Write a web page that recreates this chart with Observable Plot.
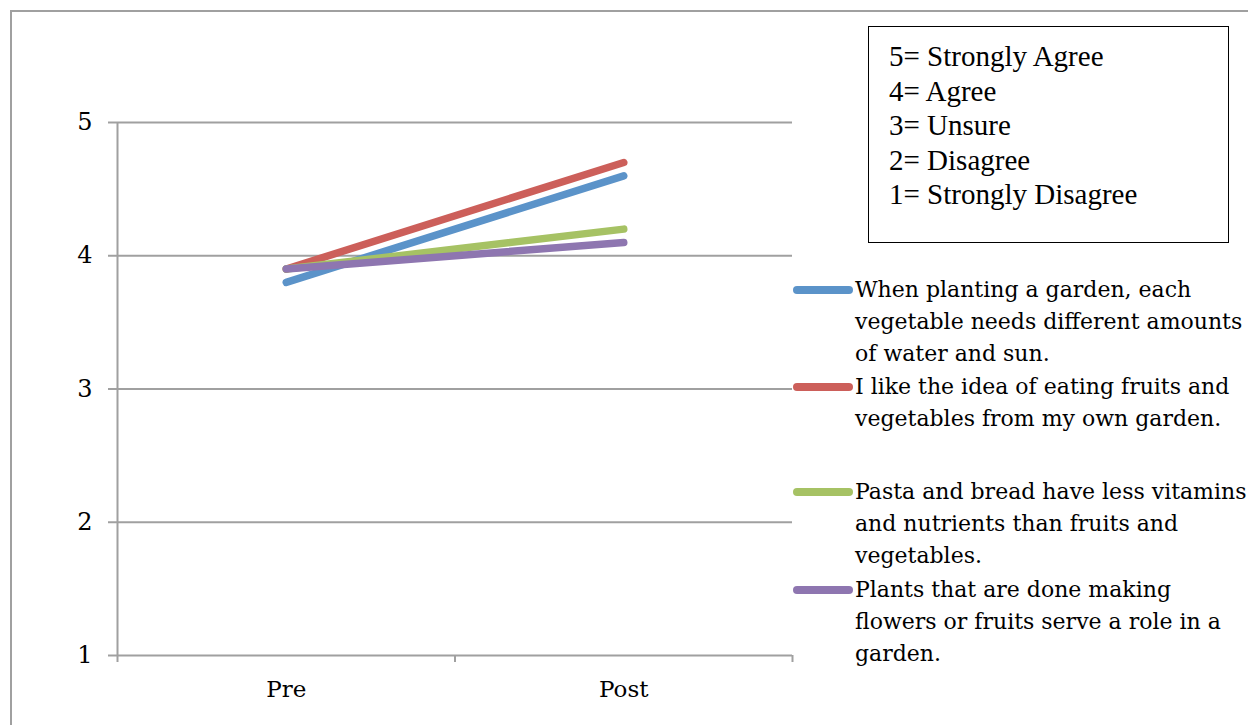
<!DOCTYPE html>
<html>
<head>
<meta charset="utf-8">
<script src="https://cdn.jsdelivr.net/npm/d3@7"></script>
<script src="https://cdn.jsdelivr.net/npm/@observablehq/plot@0.6"></script>
<style>
  html, body { margin: 0; padding: 0; background: #fff; }
  #wrap { position: relative; width: 1248px; height: 725px; overflow: hidden; background: #fff; }
  #frame { position: absolute; left: 10px; top: 10px; width: 1400px; height: 900px; border: 2px solid #a0a0a0; box-sizing: border-box; }
  #chart { position: absolute; left: 0; top: 0; }
  #key { position: absolute; left: 868px; top: 26px; width: 361px; height: 217px; border: 1.5px solid #000; box-sizing: border-box;
         font-family: "Liberation Serif", "Times New Roman", serif; font-size: 29px; line-height: 34.5px; padding: 12px 0 0 20px; color: #000; }
  #legend { position: absolute; left: 793px; top: 0; width: 460px; font-family: "DejaVu Serif", serif; font-size: 22px; line-height: 32px; color: #000; }
  .item { position: absolute; left: 0; display: flex; align-items: flex-start; }
  .sw { width: 60px; height: 8px; border-radius: 4px; margin-top: 12px; flex: none; }
  .lab { margin-left: 2px; width: 440px; white-space: nowrap; }
</style>
</head>
<body>
<div id="wrap">
  <div id="frame"></div>
  <div id="chart"></div>
  <div id="key"></div>
  <div id="legend"></div>
</div>
<script>
const categories = ["Pre", "Post"];
const series = [
  "When planting a garden, each vegetable needs different amounts of water and sun.",
  "I like the idea of eating fruits and vegetables from my own garden.",
  "Pasta and bread have less vitamins and nutrients than fruits and vegetables.",
  "Plants that are done making flowers or fruits serve a role in a garden."
];
const preValues = [3.8, 3.9, 3.9, 3.9];
const postValues = [4.6, 4.7, 4.2, 4.1];
const colors = ["#5b93c9", "#cc5f5a", "#a6c264", "#8e76b0"];
const yTicks = [1, 2, 3, 4, 5];
const scaleKey = ["5= Strongly Agree", "4= Agree", "3= Unsure", "2= Disagree", "1= Strongly Disagree"];
const legendLines = [
  ["When planting a garden, each", "vegetable needs different amounts", "of water and sun."],
  ["I like the idea of eating fruits and", "vegetables from my own garden."],
  ["Pasta and bread have less vitamins", "and nutrients than fruits and", "vegetables."],
  ["Plants that are done making", "flowers or fruits serve a role in a", "garden."]
];
const legendTops = [274, 371, 476, 574];

const data = [];
series.forEach((s, i) => {
  data.push({series: s, cat: categories[0], x: 0.5, y: preValues[i]});
  data.push({series: s, cat: categories[1], x: 1.5, y: postValues[i]});
});
const labels = categories.map((c, i) => ({cat: c, x: i + 0.5}));

const chart = Plot.plot({
  width: 1248,
  height: 725,
  marginLeft: 117,
  marginRight: 456,
  marginTop: 122,
  marginBottom: 70,
  style: {fontFamily: "DejaVu Serif, serif", fontSize: "23px", color: "#000", background: "transparent"},
  x: {domain: [0, 2], axis: null},
  y: {domain: [1, 5], axis: null},
  color: {domain: series, range: colors},
  marks: [
    Plot.gridY(yTicks, {stroke: "#a0a0a0", strokeOpacity: 1, strokeWidth: 2}),
    Plot.axisY(yTicks, {tickSize: 9, stroke: "#a0a0a0", strokeWidth: 2, tickPadding: 16, fontSize: 24, fill: "#000", tickFormat: d => d, label: null}),
    Plot.ruleX([0], {stroke: "#a0a0a0", strokeWidth: 2}),
    Plot.axisX([0, 1, 2], {tickSize: 7, stroke: "#a0a0a0", strokeWidth: 2, tickFormat: () => "", label: null}),
    Plot.text(labels, {x: "x", y: 1, text: "cat", dy: 34, fontSize: 23, fill: "#000"}),
    Plot.line(data, {x: "x", y: "y", z: "series", stroke: "series", strokeWidth: 7.5, strokeLinecap: "round"})
  ]
});
document.getElementById("chart").appendChild(chart);

const key = document.getElementById("key");
scaleKey.forEach(t => { const d = document.createElement("div"); d.textContent = t; key.appendChild(d); });

const legend = document.getElementById("legend");
series.forEach((s, i) => {
  const item = document.createElement("div");
  item.className = "item";
  item.style.top = legendTops[i] + "px";
  const sw = document.createElement("div");
  sw.className = "sw";
  sw.style.background = colors[i];
  const lab = document.createElement("div");
  lab.className = "lab";
  lab.innerHTML = legendLines[i].join("<br>");
  item.appendChild(sw);
  item.appendChild(lab);
  legend.appendChild(item);
});
</script>
</body>
</html>
